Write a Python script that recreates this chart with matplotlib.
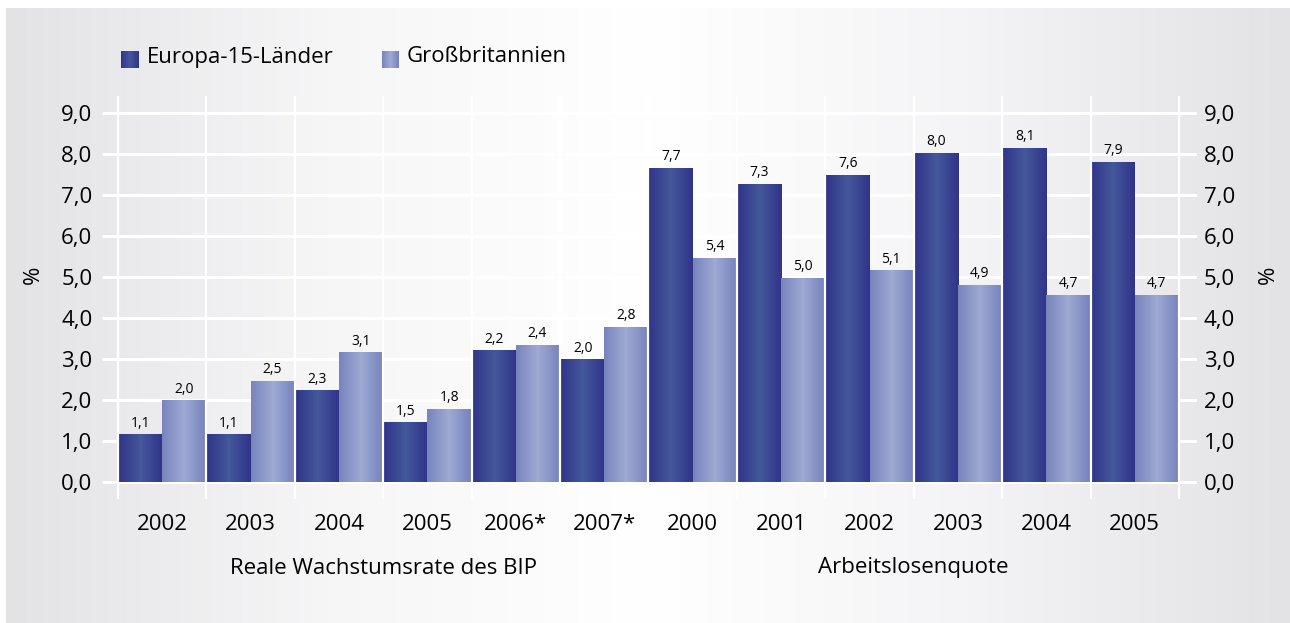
import numpy as np
import matplotlib
matplotlib.use("Agg")
import matplotlib.pyplot as plt
from matplotlib.colors import LinearSegmentedColormap
from matplotlib.transforms import blended_transform_factory

plt.rcParams['font.family'] = ['Open Sans', 'DejaVu Sans']

# categories (two blocks: GDP growth 2002-2007*, unemployment 2000-2005)
categories = ['2002', '2003', '2004', '2005', '2006*', '2007*',
              '2000', '2001', '2002', '2003', '2004', '2005']
# printed values
eu15_labels = [1.1, 1.1, 2.3, 1.5, 2.2, 2.0, 7.7, 7.3, 7.6, 8.0, 8.1, 7.9]
gb_labels = [2.0, 2.5, 3.1, 1.8, 2.4, 2.8, 5.4, 5.0, 5.1, 4.9, 4.7, 4.7]
# bar heights as drawn in the picture
eu15_heights = [1.15, 1.15, 2.22, 1.44, 3.2, 2.98, 7.65, 7.26, 7.48, 8.01, 8.14, 7.8]
gb_heights = [1.98, 2.46, 3.15, 1.77, 3.34, 3.77, 5.45, 4.97, 5.15, 4.8, 4.55, 4.55]
group_names = ['Reale Wachstumsrate des BIP', 'Arbeitslosenquote']
series_names = ['Europa-15-Länder', 'Großbritannien']
yticks = [0, 1, 2, 3, 4, 5, 6, 7, 8, 9]

dark_cmap = LinearSegmentedColormap.from_list('dark', ['#31358a', '#44589b', '#30338a'])
light_cmap = LinearSegmentedColormap.from_list('light', ['#7784bd', '#9eaad3', '#7682bc'])
bg_cmap = LinearSegmentedColormap.from_list('bg', ['#e3e3e6', '#f6f6f7', '#ffffff', '#f4f4f6', '#e3e3e6'])
grad = np.linspace(0, 1, 256).reshape(1, -1)

fig = plt.figure(figsize=(12.9, 6.23), dpi=100)

# background panel with horizontal gradient
bg = fig.add_axes([6 / 1290, 0, 1 - 6 / 1290, (623 - 8) / 623], zorder=-5)
bg.imshow(grad, cmap=bg_cmap, aspect='auto', extent=[0, 1, 0, 1])
bg.set_axis_off()

ax = fig.add_axes([102 / 1290, (623 - 499) / 623, (1197 - 102) / 1290, (499 - 96) / 623])
ax.set_facecolor('none')

x = np.arange(len(categories))
w = 0.49
xlim = (-0.5 - 16 / 88.4, 11.5 + 18 / 88.4)
ylim = (-17 / 41, 386 / 41)

ax.hlines(yticks, xlim[0], xlim[1], color='white', lw=2.2, zorder=1)
b1 = ax.bar(x - w / 2, eu15_heights, w, color='#3a4592', zorder=2)
b2 = ax.bar(x + w / 2, gb_heights, w, color='#8b97cb', zorder=2)
for bars, cmap in ((b1, dark_cmap), (b2, light_cmap)):
    for p in bars:
        x0, y0 = p.get_x(), p.get_y()
        ax.imshow(grad, cmap=cmap, aspect='auto', zorder=2.5,
                  extent=[x0, x0 + p.get_width(), y0, y0 + p.get_height()])
ax.vlines(np.arange(-0.5, 12, 1), ylim[0], ylim[1], color='white', lw=1.6, zorder=3)

for xi, h, v in zip(x - w / 2, eu15_heights, eu15_labels):
    ax.annotate(f'{v:.1f}'.replace('.', ','), (xi, h), xytext=(0, 3),
                textcoords='offset points', ha='center', va='bottom', fontsize=10)
for xi, h, v in zip(x + w / 2, gb_heights, gb_labels):
    ax.annotate(f'{v:.1f}'.replace('.', ','), (xi, h), xytext=(0, 3),
                textcoords='offset points', ha='center', va='bottom', fontsize=10)

ax.set_xlim(*xlim)
ax.set_ylim(*ylim)
for s in ax.spines.values():
    s.set_visible(False)

ytl = [f'{t:.1f}'.replace('.', ',') for t in yticks]
ax.set_yticks(yticks)
ax.set_yticklabels(ytl, fontsize=16)
ax.tick_params(axis='y', length=0, pad=7)
ax.set_xticks(x)
ax.set_xticklabels(categories, fontsize=16)
ax.tick_params(axis='x', length=0, pad=11)

ax2 = ax.twinx()
ax2.set_ylim(*ylim)
ax2.set_yticks(yticks)
ax2.set_yticklabels(ytl, fontsize=16)
ax2.tick_params(axis='y', length=0, pad=5)
for s in ax2.spines.values():
    s.set_visible(False)

fig.text(33 / 1290, 1 - 275 / 623, '%', rotation=90, ha='center', va='center', fontsize=16)
fig.text(1268 / 1290, 1 - 275 / 623, '%', rotation=90, ha='center', va='center', fontsize=16)

tr = blended_transform_factory(ax.transData, fig.transFigure)
ax.text(2.5, 1 - 568 / 623, group_names[0], transform=tr, ha='center', va='center', fontsize=16)
ax.text(8.5, 1 - 568 / 623, group_names[1], transform=tr, ha='center', va='center', fontsize=16)

# legend with gradient squares
for lx, tx, cmap, name in ((121, 147, dark_cmap, series_names[0]),
                           (382, 407, light_cmap, series_names[1])):
    sq = fig.add_axes([lx / 1290, 1 - 68 / 623, 17 / 1290, 17 / 623])
    sq.imshow(grad, cmap=cmap, aspect='auto')
    sq.set_axis_off()
    fig.text(tx / 1290, 1 - 57 / 623, name, ha='left', va='center', fontsize=16)

fig.savefig('out.png', dpi=100)
